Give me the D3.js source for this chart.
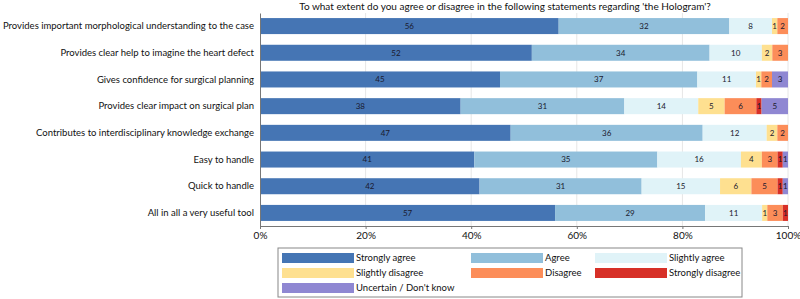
<!DOCTYPE html>
<html>
<head>
<meta charset="utf-8">
<script src="https://cdn.jsdelivr.net/npm/d3@7"></script>
<style>
  body { margin: 0; background: #fff; }
  text { font-family: Lato, "Open Sans", sans-serif; fill: #111; }
  .valLabel { font-size: 8px; fill: #1a1a2e; }
</style>
</head>
<body>
<div id="chart"></div>
<script>
// statements (rows, top to bottom)
const statements = [
    "Provides important morphological understanding to the case",
    "Provides clear help to imagine the heart defect",
    "Gives confidence for surgical planning",
    "Provides clear impact on surgical plan",
    "Contributes to interdisciplinary knowledge exchange",
    "Easy to handle",
    "Quick to handle",
    "All in all a very useful tool"
];

const answers = ["Strongly agree", "Agree", "Slightly agree", "Slightly disagree",
                 "Disagree", "Strongly disagree", "Uncertain / Don't know"];

// percentages per answer, one value per statement
const stronglyAgree    = [56, 52, 45, 38, 47, 41, 42, 57];
const agree            = [32, 34, 37, 31, 36, 35, 31, 29];
const slightlyAgree    = [ 8, 10, 11, 14, 12, 16, 15, 11];
const slightlyDisagree = [ 1,  2,  1,  5,  2,  4,  6,  1];
const disagree         = [ 2,  3,  2,  6,  2,  3,  5,  3];
const stronglyDisagree = [ 0,  0,  0,  1,  0,  1,  1,  1];
const uncertain        = [ 0,  0,  3,  5,  0,  1,  1,  0];

const xTicks = [0, 0.2, 0.4, 0.6, 0.8, 1];

const colors = ["#4575b4", "#91bfdb", "#e0f3f8", "#fee090", "#fc8d59", "#d73027", "#8f87d2"];

const series = [stronglyAgree, agree, slightlyAgree, slightlyDisagree, disagree, stronglyDisagree, uncertain];

// build table, each row normalised to 100%
const table = statements.map(function(s, i) {
    let row = {statement: s};
    let total = d3.sum(series, a => a[i]);
    answers.forEach(function(a, j) {
        row[a] = series[j][i];
        row[a + "_share"] = series[j][i] / total;
    });
    return row;
});

const W = 800, H = 299;
const margin = {top: 13, right: 12, bottom: 73, left: 260};
const width = W - margin.left - margin.right,
      height = H - margin.top - margin.bottom;

const svgRoot = d3.select("#chart").append("svg")
    .attr("width", W).attr("height", H);

svgRoot.append("text")
    .attr("x", 505).attr("y", 10)
    .attr("text-anchor", "middle")
    .style("font-size", "10px")
    .text("To what extent do you agree or disagree in the following statements regarding 'the Hologram'?");

const svg = svgRoot.append("g")
    .attr("transform", `translate(${margin.left}, ${margin.top})`);

const x = d3.scaleLinear().domain([0, 1]).range([0, width]);
const y = d3.scaleBand().domain(statements).range([0, height])
    .paddingInner(0.4).paddingOuter(0.19);

// vertical grid
svg.append("g")
    .selectAll("line")
    .data(xTicks.slice(1))
    .join("line")
    .attr("x1", d => x(d)).attr("x2", d => x(d))
    .attr("y1", 0).attr("y2", height)
    .attr("stroke", "#e6e6e6");

// stacked bars
const stack = d3.stack().keys(answers.map(a => a + "_share"));
const layers = stack(table);

const layer = svg.selectAll(".layer")
    .data(layers)
    .join("g")
    .attr("class", "layer")
    .attr("fill", (d, i) => colors[i]);

layer.selectAll("rect")
    .data(d => d)
    .join("rect")
    .attr("x", d => x(d[0]))
    .attr("width", d => x(d[1]) - x(d[0]))
    .attr("y", d => y(d.data.statement))
    .attr("height", y.bandwidth());

layer.each(function(L, i) {
    d3.select(this).selectAll("text")
        .data(L.filter(d => d.data[answers[i]] > 0))
        .join("text")
        .attr("class", "valLabel")
        .attr("x", d => (x(d[0]) + x(d[1])) / 2)
        .attr("y", d => y(d.data.statement) + y.bandwidth() / 2)
        .attr("dy", "0.35em")
        .attr("text-anchor", "middle")
        .text(d => d.data[answers[i]]);
});

// y axis
svg.append("g")
    .call(d3.axisLeft(y).tickSize(0).tickPadding(6))
    .call(g => g.select(".domain").attr("stroke", "#777"))
    .call(g => g.selectAll("text").style("font-size", "9.5px").attr("fill", "#111"));

// x axis
svg.append("g")
    .attr("transform", `translate(0, ${height})`)
    .call(d3.axisBottom(x).tickValues(xTicks).tickFormat(d3.format(".0%")).tickSize(3).tickSizeOuter(0))
    .call(g => g.select(".domain").attr("stroke", "#777"))
    .call(g => g.selectAll(".tick line").attr("stroke", "#777"))
    .call(g => g.selectAll("text").style("font-size", "10px").attr("fill", "#111"));

// legend
const legend = svgRoot.append("g").attr("transform", "translate(278, 248)");
legend.append("rect")
    .attr("width", 464).attr("height", 49)
    .attr("fill", "none").attr("stroke", "#888");

const colX = [4, 193, 317];
legend.selectAll(".item")
    .data(answers)
    .join("g")
    .attr("class", "item")
    .attr("transform", (d, i) => `translate(${colX[i % 3]}, ${5 + Math.floor(i / 3) * 15})`)
    .call(g => g.append("rect")
        .attr("width", 72).attr("height", 10)
        .attr("fill", (d, i) => colors[i]))
    .call(g => g.append("text")
        .attr("x", 74).attr("y", 5).attr("dy", "0.35em")
        .style("font-size", "9.5px")
        .text(d => d));
</script>
</body>
</html>
